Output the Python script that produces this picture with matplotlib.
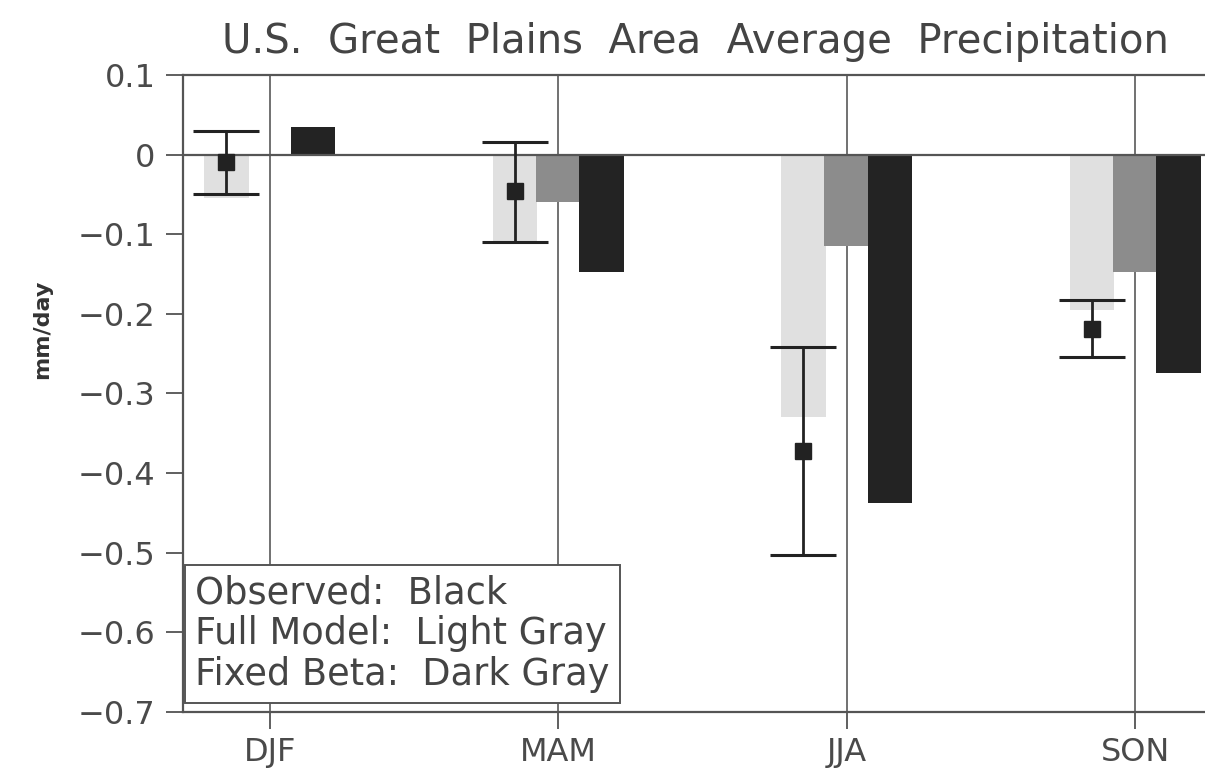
import numpy as np
import matplotlib
matplotlib.use("Agg")
import matplotlib.pyplot as plt

seasons = ["DJF", "MAM", "JJA", "SON"]
full_model = [-0.055, -0.11, -0.33, -0.195]     # light gray
fixed_beta = [0.0, -0.06, -0.115, -0.148]       # dark gray
observed = [0.035, -0.148, -0.437, -0.274]      # black bars
obs_point = [-0.01, -0.046, -0.372, -0.219]
obs_hi = [0.03, 0.016, -0.242, -0.183]
obs_lo = [-0.05, -0.11, -0.503, -0.254]
yticks = [0.1, 0, -0.1, -0.2, -0.3, -0.4, -0.5, -0.6, -0.7]
ytick_labels = ["0.1", "0", "\u22120.1", "\u22120.2", "\u22120.3", "\u22120.4",
                "\u22120.5", "\u22120.6", "\u22120.7"]

plt.rcParams['font.family'] = ['DejaVu Sans']
txt = "#4a4a4a"

fig = plt.figure(figsize=(12.05, 7.76), dpi=100)
ax = fig.add_axes([0.152, 0.0825, 0.85, 0.821])

x = np.arange(len(seasons))
w = 0.155
off = 0.15

# vertical lines at each season
for xi in x:
    ax.axvline(xi, color="#666666", lw=1.3, zorder=1)
ax.axhline(0, color="#555555", lw=1.6, zorder=4)

ax.bar(x - off, full_model, w, color="#e0e0e0", zorder=2)
ax.bar(x, fixed_beta, w, color="#8c8c8c", zorder=2)
ax.bar(x + off, observed, w, color="#232323", zorder=2)

pt = np.array(obs_point)
yerr = [pt - np.array(obs_lo), np.array(obs_hi) - pt]
ax.errorbar(x - off, pt, yerr=yerr, fmt="s", color="#222222", ms=11,
            capsize=24, capthick=2.2, elinewidth=2, zorder=5)

ax.set_xlim(-0.30, 3.25)
ax.set_ylim(-0.7, 0.1)
ax.set_yticks(yticks)
ax.set_yticklabels(ytick_labels)
ax.set_xticks(x)
ax.set_xticklabels(seasons)
ax.tick_params(axis="both", colors="#444444", labelcolor=txt, labelsize=23,
               length=12, width=1.2)
ax.tick_params(axis="y", pad=8)
ax.tick_params(axis="x", pad=6)
ax.set_ylabel("mm/day", fontsize=16, color="#333333", fontweight="bold")
ax.yaxis.set_label_coords(-0.128, 0.6)

for s in ["left", "top", "bottom"]:
    ax.spines[s].set_color("#555555")
    ax.spines[s].set_linewidth(1.6)
ax.spines["right"].set_visible(False)

ax.text(-0.258, -0.602, "Observed:  Black\nFull Model:  Light Gray\nFixed Beta:  Dark Gray",
        fontsize=26.5, color="#444444", va="center", ha="left", linespacing=1.12,
        zorder=6,
        bbox=dict(boxstyle="square,pad=0.28", fc="white", ec="#555555", lw=1.4))

fig.text(0.577, 0.946, "U.S.  Great  Plains  Area  Average  Precipitation",
         ha="center", va="center", fontsize=29, color="#444444")

fig.savefig("out.png", dpi=100)
